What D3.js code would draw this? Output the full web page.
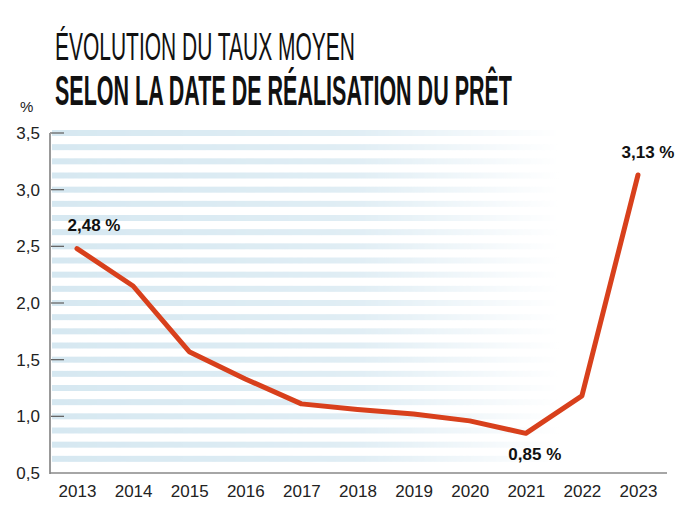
<!DOCTYPE html>
<html><head><meta charset="utf-8">
<script src="https://cdn.jsdelivr.net/npm/d3@7"></script>
<style>body{margin:0;background:#fff}svg{display:block}</style>
</head><body>
<script>
const years = ["2013","2014","2015","2016","2017","2018","2019","2020","2021","2022","2023"];
const rates = [2.48, 2.15, 1.57, 1.33, 1.11, 1.06, 1.02, 0.96, 0.85, 1.18, 3.13];
const yTicks = [0.5, 1.0, 1.5, 2.0, 2.5, 3.0, 3.5];
const labelled = [{i:0, text:"2,48 %"}, {i:8, text:"0,85 %"}, {i:10, text:"3,13 %"}];
const title1 = "ÉVOLUTION DU TAUX MOYEN";
const title2 = "SELON LA DATE DE RÉALISATION DU PRÊT";

const W = 700, H = 520;
const svg = d3.select("body").append("svg").attr("width", W).attr("height", H);
const x = d3.scalePoint().domain(years).range([77, 638]);
const y = d3.scaleLinear().domain([0.5, 3.5]).range([473, 133]);
const fmt = v => d3.format(".1f")(v).replace(".", ",");

// fading stripes
const defs = svg.append("defs");
const grad = defs.append("linearGradient").attr("id","fade").attr("gradientUnits","userSpaceOnUse")
  .attr("x1",52).attr("x2",560).attr("y1",0).attr("y2",0);
grad.append("stop").attr("offset",0).attr("stop-color","#fff").attr("stop-opacity",1);
grad.append("stop").attr("offset",0.6).attr("stop-color","#fff").attr("stop-opacity",0.75);
grad.append("stop").attr("offset",1).attr("stop-color","#fff").attr("stop-opacity",0);
const mask = defs.append("mask").attr("id","m");
mask.append("rect").attr("x",0).attr("y",0).attr("width",W).attr("height",H).attr("fill","url(#fade)");
const stripeVals = d3.range(0.625, 3.5001, 0.125);
svg.append("g").attr("mask","url(#m)").selectAll("rect").data(stripeVals).join("rect")
  .attr("x", 52).attr("width", 560-52)
  .attr("y", d => y(d) - 3).attr("height", 6)
  .attr("fill", "#d6e8f1");

// titles (condensed by horizontal scaling)
function title(txt, x0, y0, size, weight, width) {
  const g = svg.append("g");
  const t = g.append("text").attr("x",0).attr("y",0).text(txt)
    .attr("font-family","Liberation Sans, Arial, sans-serif").attr("font-size",size)
    .attr("font-weight",weight).attr("fill","#111");
  const w = t.node().getComputedTextLength();
  g.attr("transform",`translate(${x0},${y0}) scale(${width / w},1)`);
}
title(title1, 55, 60, 38, "normal", 300);
title(title2, 55, 105, 42, "bold", 457);

// y axis
const yAxis = d3.axisLeft(y).tickValues(yTicks).tickFormat(fmt).tickSize(0).tickPadding(10);
const ya = svg.append("g").attr("transform","translate(50,0)").call(yAxis);
ya.select(".domain").remove();
ya.selectAll("text").attr("font-family","Liberation Sans, Arial, sans-serif").attr("font-size",17).attr("fill","#222");
svg.append("g").selectAll("line").data(yTicks.filter(d => d > 0.5)).join("line")
  .attr("x1",50).attr("x2",64).attr("y1",d=>y(d)).attr("y2",d=>y(d))
  .attr("stroke","#666").attr("stroke-width",1.3);
svg.append("line").attr("x1",50).attr("x2",50).attr("y1",y(3.5)).attr("y2",y(0.5)+1)
  .attr("stroke","#999").attr("stroke-width",2);
svg.append("text").attr("x",20).attr("y",112).text("%")
  .attr("font-family","Liberation Sans, Arial, sans-serif").attr("font-size",15).attr("fill","#222");

// x axis
const xAxis = d3.axisBottom(x).tickSize(0).tickPadding(12);
const xa = svg.append("g").attr("transform",`translate(0,${y(0.5)})`).call(xAxis);
xa.select(".domain").remove();
xa.selectAll("text").attr("font-family","Liberation Sans, Arial, sans-serif").attr("font-size",17).attr("fill","#222");
svg.append("line").attr("x1",50).attr("x2",667).attr("y1",y(0.5)).attr("y2",y(0.5))
  .attr("stroke","#888").attr("stroke-width",1.5);

// line
const line = d3.line().x((d,i)=>x(years[i])).y(d=>y(d));
svg.append("path").datum(rates).attr("d",line).attr("fill","none")
  .attr("stroke","#d8401c").attr("stroke-width",5).attr("stroke-linejoin","round").attr("stroke-linecap","round");

// value labels
const offs = {0:[17,-18], 8:[9,27], 10:[10,-17]};
svg.append("g").selectAll("text").data(labelled).join("text")
  .attr("x", d => x(years[d.i]) + offs[d.i][0]).attr("y", d => y(rates[d.i]) + offs[d.i][1])
  .attr("text-anchor","middle").text(d => d.text)
  .attr("font-family","Liberation Sans, Arial, sans-serif").attr("font-weight","bold").attr("font-size",17)
  .attr("fill","#111");
</script>
</body></html>
